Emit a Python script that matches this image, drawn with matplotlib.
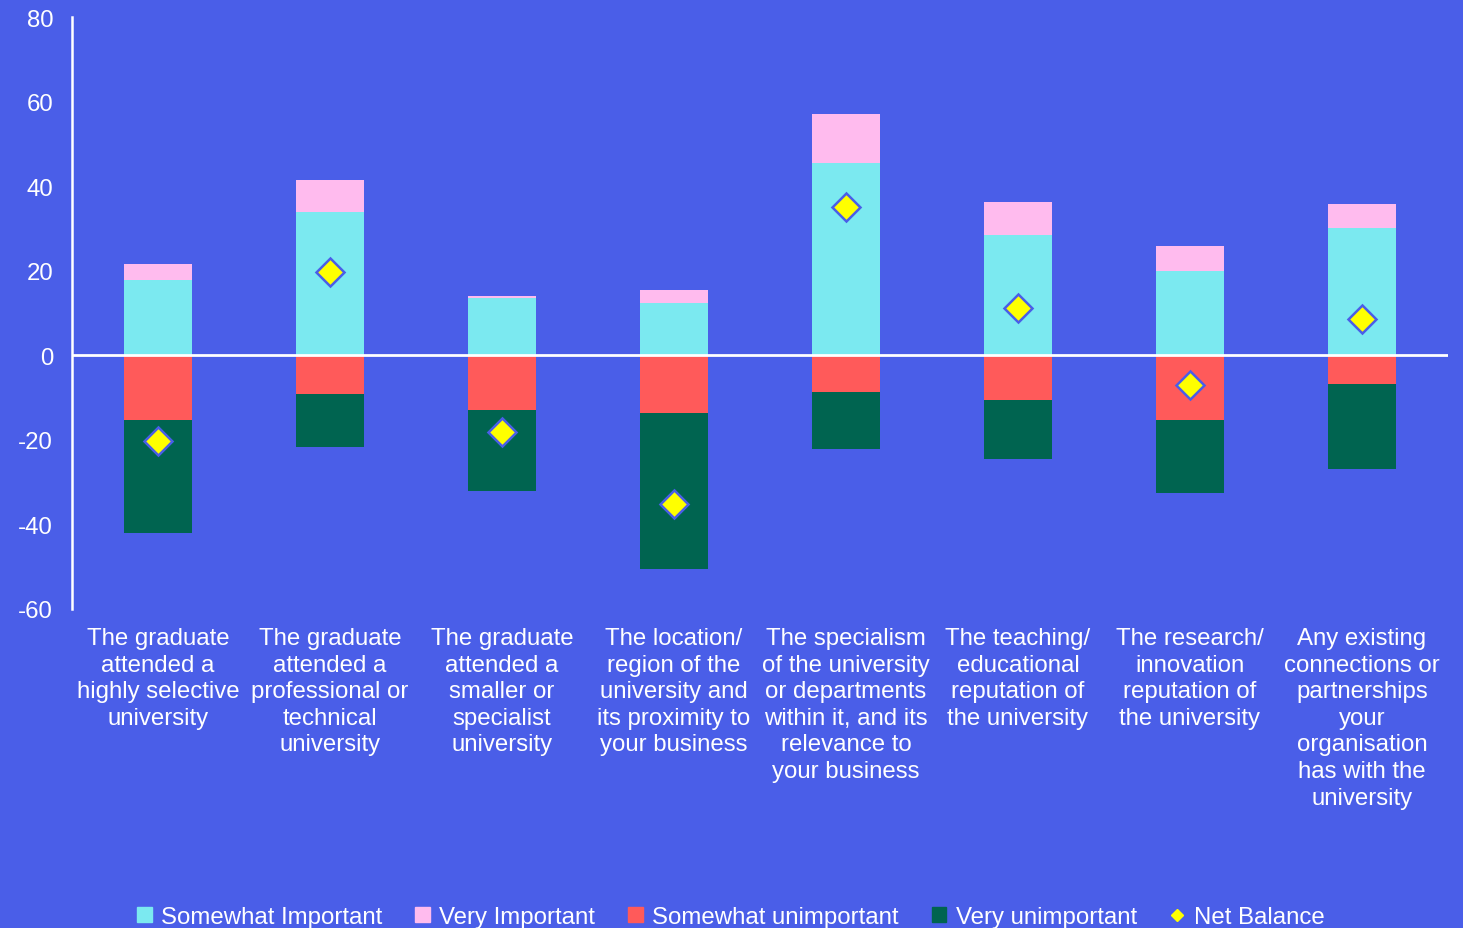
import matplotlib.pyplot as plt
import numpy as np
from matplotlib.lines import Line2D
from matplotlib.patches import Patch

plt.rcParams['font.family'] = ['Liberation Sans', 'DejaVu Sans']
plt.rcParams['axes.unicode_minus'] = False

categories = [
    "The graduate\nattended a\nhighly selective\nuniversity",
    "The graduate\nattended a\nprofessional or\ntechnical\nuniversity",
    "The graduate\nattended a\nsmaller or\nspecialist\nuniversity",
    "The location/\nregion of the\nuniversity and\nits proximity to\nyour business",
    "The specialism\nof the university\nor departments\nwithin it, and its\nrelevance to\nyour business",
    "The teaching/\neducational\nreputation of\nthe university",
    "The research/\ninnovation\nreputation of\nthe university",
    "Any existing\nconnections or\npartnerships\nyour\norganisation\nhas with the\nuniversity",
]
somewhat_important = [17.7, 34.0, 13.5, 12.3, 45.4, 28.4, 19.9, 30.0]
very_important = [3.8, 7.4, 0.5, 3.1, 11.6, 7.8, 5.9, 5.7]
somewhat_unimportant = [-15.4, -9.2, -13.0, -13.7, -8.7, -10.6, -15.4, -6.9]
very_unimportant = [-26.7, -12.5, -19.1, -36.9, -13.5, -14.0, -17.2, -20.1]
net_balance = [-20.3, 19.6, -18.2, -35.2, 35.0, 11.3, -7.1, 8.5]

bg = '#4A5EE8'
c_si = '#7BE9F0'
c_vi = '#FFBBEE'
c_su = '#FF5A5A'
c_vu = '#006450'

fig = plt.figure(figsize=(14.63, 9.29), dpi=100, facecolor=bg)
ax = fig.add_axes([0.0492, 0.3434, 0.9405, 0.6372], facecolor=bg)

x = np.arange(len(categories))
w = 0.395
si = np.array(somewhat_important)
su = np.array(somewhat_unimportant)
ax.bar(x, si, w, color=c_si, zorder=2)
ax.bar(x, very_important, w, bottom=si, color=c_vi, zorder=2)
ax.bar(x, su, w, color=c_su, zorder=2)
ax.bar(x, very_unimportant, w, bottom=su, color=c_vu, zorder=2)
ax.plot(x, net_balance, linestyle='none', marker='D', markersize=14,
        markerfacecolor='#FFFF00', markeredgecolor='#4A5EE8', markeredgewidth=1.8, zorder=4)
ax.axhline(0, color='white', lw=2, zorder=3)

ax.set_xlim(-0.5, 7.5)
ax.set_ylim(-60, 80)
ax.set_yticks(range(-60, 81, 20))
ax.set_xticks(x)
ax.set_xticklabels(categories, color='white', fontsize=17.3, linespacing=1.27,
                   ha='center', multialignment='center')
ax.tick_params(axis='x', length=0, pad=13)
ax.tick_params(axis='y', length=0, pad=13.5, labelcolor='white', labelsize=17.3)
for s in ['top', 'right', 'bottom']:
    ax.spines[s].set_visible(False)
ax.spines['left'].set_color('white')
ax.spines['left'].set_linewidth(1.8)

handles = [
    Patch(color=c_si, label='Somewhat Important'),
    Patch(color=c_vi, label='Very Important'),
    Patch(color=c_su, label='Somewhat unimportant'),
    Patch(color=c_vu, label='Very unimportant'),
    Line2D([], [], linestyle='none', marker='D', markersize=6, color='#FFFF00',
           label='Net Balance'),
]
leg = fig.legend(handles=handles, loc='center', bbox_to_anchor=(0.4995, 0.012), ncol=5,
                 frameon=False, fontsize=17.3, handlelength=0.6, handleheight=0.6,
                 handletextpad=0.4, columnspacing=1.37, labelcolor='white')

fig.savefig('out.png', dpi=100, facecolor=bg)
